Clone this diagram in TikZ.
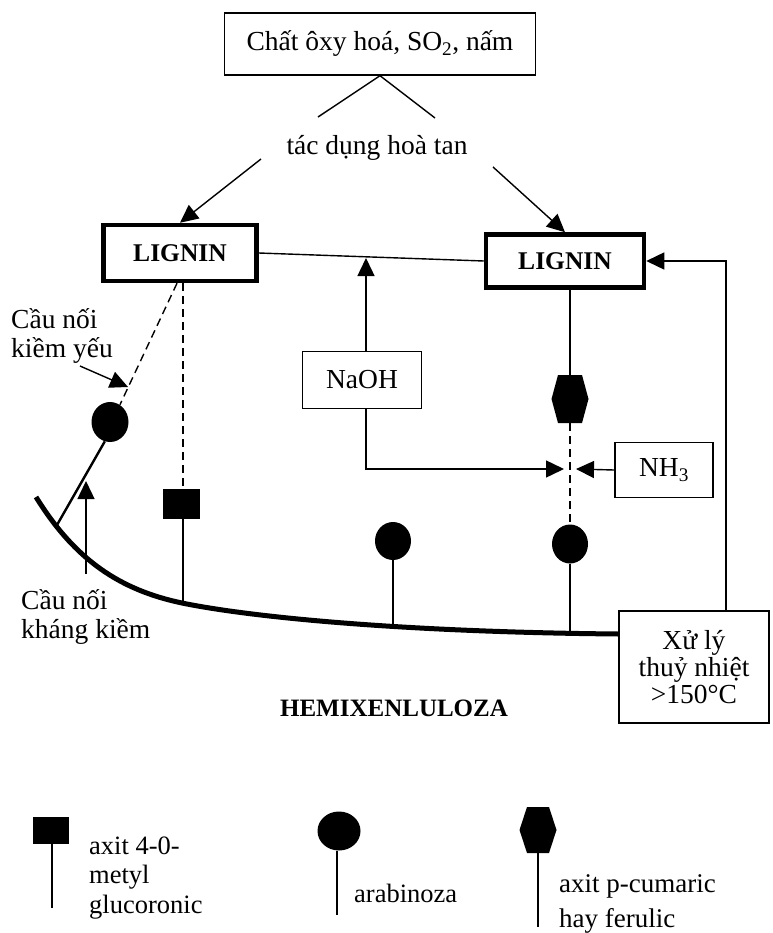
\documentclass[tikz,border=0pt]{standalone}
\usepackage{fontspec}
\setmainfont{Liberation Serif}
\usetikzlibrary{arrows.meta,shapes.geometric}
\newcommand{\hexa}[5]{% name, x, y, half height, half top width
  \fill (#2-#5,#3-#4) -- (#2+#5,#3-#4) -- (#2+18.5,#3) -- (#2+#5,#3+#4) -- (#2-#5,#3+#4) -- (#2-18.5,#3) -- cycle;
  \coordinate (#1t) at (#2,#3-#4);
  \coordinate (#1b) at (#2,#3+#4);}
\begin{document}
\begin{tikzpicture}[x=1pt,y=-1pt,
  txt/.style={font=\fontsize{27.5}{29}\selectfont, inner sep=0pt},
  box/.style={draw, line width=1.4pt, rectangle, inner sep=0pt, align=center, font=\fontsize{27.5}{27}\selectfont},
  lig/.style={draw, line width=4.5pt, rectangle, inner sep=0pt, font=\fontsize{25.5}{26}\selectfont\bfseries},
  thin/.style={line width=1.4pt},
  stem/.style={line width=2.4pt},
  dsh/.style={line width=1.4pt, dash pattern=on 8pt off 5pt},
  arr/.style={line width=1.4pt, -{Triangle[length=18pt,width=17pt]}},
  blob/.style={ellipse, fill, draw=none, inner sep=0pt},
  sqr/.style={rectangle, fill, draw=none, inner sep=0pt}]
\useasboundingbox (0,0) rectangle (772,933);

% top
\node[box, minimum width=311, minimum height=62] (top) at (380,44) {Chất ôxy hoá, SO\textsubscript{2}, nấm};
\coordinate (tl) at (318,117);
\coordinate (tr) at (435,118);
\draw[thin] (top.south) -- (tl);
\draw[thin] (top.south) -- (tr);
\node[txt] (tac) at (377,148) {tác dụng hoà tan};
\coordinate (a1s) at (261,159);
\coordinate (a2s) at (493,167);

% lignin boxes
\node[lig, minimum width=153, minimum height=56] (L1) at (180,253) {LIGNIN};
\node[lig, minimum width=158, minimum height=53] (L2) at (565,261) {LIGNIN};
\draw[arr] (a1s) -- (L1.north);
\draw[arr] (a2s) -- (L2.north);
\draw[thin] (L1.east) -- (L2.west);

% NaOH
\node[box, minimum width=119, minimum height=57] (naoh) at (362,380) {NaOH};
\coordinate (nj) at (366,258);
\draw[arr] (nj |- naoh.north) -- (nj);
\coordinate (meetL) at (564,469);
\coordinate (meetR) at (576,469);
\draw[arr] (nj |- naoh.south) |- (meetL);
\node[box, minimum width=98, minimum height=55] (nh3) at (664,470) {NH\textsubscript{3}};
\draw[arr] (nh3.west) -- (meetR);

% right side chain
\hexa{hR}{570}{399}{24}{12}
\draw[stem] (hRt |- L2.south) -- (hRt);
\node[blob, minimum width=36, minimum height=39] (cR) at (570,544) {};
\draw[dsh] (hRb) -- (cR.north);

% Xu ly box
\node[box, minimum width=150, minimum height=112] (xl) at (694,667) {Xử lý\\thuỷ nhiệt\\>150°C};
\coordinate (fb) at (726,611);
\draw[arr] (fb |- xl.north) |- (L2.east);

% main curve
\coordinate (c0) at (36,497);
\coordinate (c1) at (182,603);
\coordinate (c9) at (xl.west |- 0,634);
\draw[line width=5pt] (c0) .. controls (75,560) and (120,590) .. (c1) .. controls (250,617) and (400,632) .. (c9);

% middle arabinose
\node[blob, minimum width=36, minimum height=38] (cM) at (393,541) {};
\coordinate (cMb) at (393,626);
\draw[stem] (cM.south) -- (cMb);
\coordinate (cRb) at (570,631);
\draw[stem] (cR.south) -- (cRb);

% square
\node[sqr, minimum width=37, minimum height=30] (sq) at (181,504) {};
\coordinate (sqb) at (183,605);
\draw[stem] (sqb |- sq.south) -- (sqb);
\draw[dsh] (sqb |- L1.south) -- (sqb |- sq.north);

% left arabinose
\node[blob, minimum width=37, minimum height=40] (cL) at (110,422) {};
\draw[dsh] ([xshift=-3pt]L1.south) -- (cL.60);
\coordinate (cLe) at (57,525);
\draw[stem] (cL.255) -- (cLe);

% labels left
\node[txt, anchor=west, align=left] (ky) at (11,336) {Cầu nối\\kiềm yếu};
\coordinate (kya) at (80,366);
\coordinate (kyb) at (128,387);
\draw[arr] (kya) -- (kyb);
\node[txt, anchor=west, align=left] (kk) at (21,617) {Cầu nối\\kháng kiềm};
\coordinate (ua1) at (86,574);
\coordinate (ua2) at (86,481);
\draw[arr] (ua1) -- (ua2);

\node[font=\fontsize{25}{27}\selectfont\bfseries, inner sep=0pt] (hemi) at (394,708) {HEMIXENLULOZA};

% legend
\node[sqr, minimum width=36, minimum height=27] (lsq) at (51,830) {};
\coordinate (lsqb) at (52,908);
\draw[stem] (lsqb |- lsq.south) -- (lsqb);
\node[txt, anchor=west, align=left, font=\fontsize{26.5}{29.5}\selectfont] (t1) at (89,878) {axit 4-0-\\metyl\\glucoronic};

\node[blob, minimum width=43, minimum height=39] (lc) at (339,831) {};
\coordinate (lcb) at (337,915);
\draw[stem] (lcb |- lc.south) -- (lcb);
\node[txt, anchor=west, font=\fontsize{26.5}{29}\selectfont] (t2) at (354,893) {arabinoza};

\hexa{lh}{538}{830}{23}{11}
\coordinate (lhb2) at (538,927);
\draw[stem] (lhb) -- (lhb2);
\node[txt, anchor=west, align=left, font=\fontsize{27}{35}\selectfont] (t3) at (559,904) {axit p-cumaric\\hay ferulic};
\end{tikzpicture}
\end{document}
